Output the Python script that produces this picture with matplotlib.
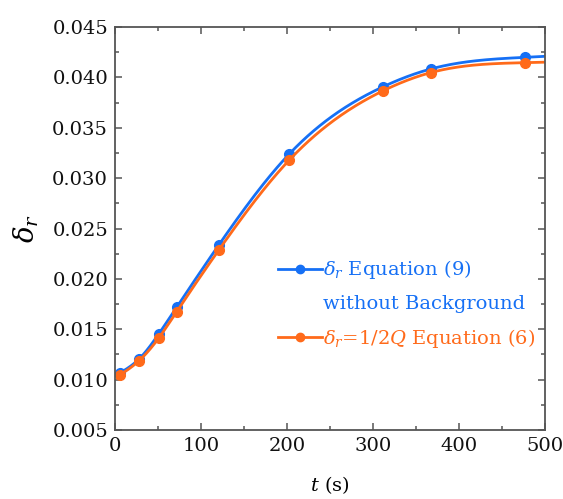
import numpy as np
import matplotlib
matplotlib.use("Agg")
import matplotlib.pyplot as plt
from matplotlib.ticker import MultipleLocator
from matplotlib.lines import Line2D

# Measured damping ratio vs time
t = [5.8, 28, 50.6, 71.7, 121, 202.7, 312, 367, 476.7]
delta_eq9 = [0.01066, 0.01205, 0.01450, 0.01718, 0.02340, 0.03240, 0.03908, 0.04083, 0.04199]
delta_eq6 = [0.01046, 0.01188, 0.01410, 0.01674, 0.02290, 0.03180, 0.03868, 0.04047, 0.04146]

label_eq9 = r"$\delta_r$ Equation (9)"
label_bg = "without Background"
label_eq6 = r"$\delta_r$=1/2$Q$ Equation (6)"

x_ticks = [0, 100, 200, 300, 400, 500]
y_ticks = [0.005, 0.010, 0.015, 0.020, 0.025, 0.030, 0.035, 0.040, 0.045]

BLUE = "#1670f5"
ORANGE = "#ff6a1a"

plt.rcParams["font.family"] = ["DejaVu Serif"]
plt.rcParams["mathtext.fontset"] = "dejavuserif"


def smooth(x, y, x_end, n=400):
    """Natural cubic spline through the points, continued straight to x_end."""
    x = np.asarray(x, float)
    y = np.asarray(y, float)
    N = len(x)
    h = np.diff(x)
    A = np.zeros((N, N))
    b = np.zeros(N)
    A[0, 0] = A[-1, -1] = 1.0
    for i in range(1, N - 1):
        A[i, i - 1] = h[i - 1]
        A[i, i] = 2 * (h[i - 1] + h[i])
        A[i, i + 1] = h[i]
        b[i] = 6 * ((y[i + 1] - y[i]) / h[i] - (y[i] - y[i - 1]) / h[i - 1])
    M = np.linalg.solve(A, b)
    xs = np.linspace(x[0], x[-1], n)
    idx = np.clip(np.searchsorted(x, xs) - 1, 0, N - 2)
    x0, x1 = x[idx], x[idx + 1]
    hh = h[idx]
    ys = (M[idx] * (x1 - xs) ** 3 / (6 * hh) + M[idx + 1] * (xs - x0) ** 3 / (6 * hh)
          + (y[idx] / hh - M[idx] * hh / 6) * (x1 - xs)
          + (y[idx + 1] / hh - M[idx + 1] * hh / 6) * (xs - x0))
    slope_end = (y[-1] - y[-2]) / h[-1] + h[-1] * (2 * M[-1] + M[-2]) / 6
    xe = np.linspace(x[-1], x_end, 20)[1:]
    ye = y[-1] + slope_end * (xe - x[-1])
    return np.concatenate([xs, xe]), np.concatenate([ys, ye])


fig = plt.figure(figsize=(5.63, 4.99), dpi=100)
ax = fig.add_axes([115 / 563, 1 - 430 / 499, 430 / 563, 403 / 499])

for yv, col in ((delta_eq9, BLUE), (delta_eq6, ORANGE)):
    xs, ys = smooth(t, yv, 505)
    ax.plot(xs, ys, color=col, lw=2.0, solid_capstyle="round")
    ax.plot(t, yv, "o", color=col, ms=7, mec=col)

ax.set_xlim(0, 500)
ax.set_ylim(0.005, 0.045)
ax.set_xticks(x_ticks)
ax.set_yticks(y_ticks)
ax.set_xticklabels([str(v) for v in x_ticks])
ax.set_yticklabels([f"{v:.3f}" for v in y_ticks])
ax.xaxis.set_minor_locator(MultipleLocator(50))
ax.yaxis.set_minor_locator(MultipleLocator(0.0025))
ax.tick_params(which="both", direction="in", top=True, right=True,
               color="#555555", labelsize=14, labelcolor="#111111", pad=5)
ax.tick_params(which="major", length=5, width=1.1)
ax.tick_params(which="minor", length=3, width=1.1)
for sp in ax.spines.values():
    sp.set_color("#555555")
    sp.set_linewidth(1.3)

ax.set_xlabel(r"$t$ (s)", fontsize=14, labelpad=14)
ax.set_ylabel(r"$\delta_r$", fontsize=20, labelpad=8)

handles = [
    Line2D([], [], color=BLUE, lw=2, marker="o", ms=6),
    Line2D([], [], color="none"),
    Line2D([], [], color=ORANGE, lw=2, marker="o", ms=6),
]
leg = ax.legend(handles, [label_eq9, label_bg, label_eq6],
                loc="upper left", bbox_to_anchor=(0.36, 0.445),
                frameon=False, fontsize=14, handlelength=2.3,
                handletextpad=0.05, labelspacing=0.7, borderaxespad=0,
                labelcolor=[BLUE, BLUE, ORANGE])

fig.savefig("out.png", dpi=100)
